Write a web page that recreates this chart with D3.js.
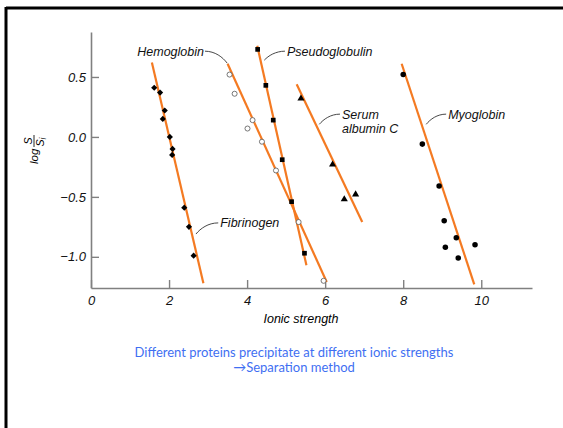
<!DOCTYPE html>
<html>
<head>
<meta charset="utf-8">
<script src="https://cdn.jsdelivr.net/npm/d3@7"></script>
<style>
  body { margin: 0; background: #fff; }
  svg text { font-family: "Liberation Sans", Arial, sans-serif; }
</style>
</head>
<body>
<div id="chart"></div>
<script>
// data: ionic strength (x) vs log S/Si (y)
var fibrinogen = [[1.62, 0.41], [1.77, 0.37], [1.89, 0.22], [1.84, 0.15], [2.02, 0.0], [2.09, -0.10], [2.08, -0.15], [2.39, -0.59], [2.51, -0.75], [2.63, -0.99]]
var hemoglobin = [[3.55, 0.52], [3.68, 0.36], [4.14, 0.14], [4.01, 0.07], [4.38, -0.04], [4.74, -0.28], [5.32, -0.71], [5.96, -1.20]]
var pseudoglobulin = [[4.27, 0.73], [4.48, 0.43], [4.67, 0.14], [4.90, -0.19], [5.14, -0.54], [5.47, -0.97]]
var serumAlbumin = [[5.38, 0.32], [6.19, -0.23], [6.49, -0.52], [6.78, -0.48]]
var myoglobin = [[8.00, 0.52], [8.49, -0.06], [8.92, -0.41], [9.05, -0.70], [9.36, -0.84], [9.08, -0.92], [9.84, -0.90], [9.41, -1.01]]

// fitted lines (end points)
var fibrinogenLine = [[1.56, 0.62], [2.88, -1.22]]
var hemoglobinLine = [[3.50, 0.61], [6.04, -1.21]]
var pseudoglobulinLine = [[4.26, 0.76], [5.52, -1.07]]
var serumAlbuminLine = [[5.27, 0.44], [6.95, -0.71]]
var myoglobinLine = [[7.96, 0.61], [9.82, -1.23]]

var xTicks = [0, 2, 4, 6, 8, 10]
var yTicks = [0.5, 0, -0.5, -1.0]

// label text, leader start and leader end, in data units
var labels = [
	{ text: ["Hemoglobin"], side: "end", from: [2.92, 0.715], to: [3.49, 0.615] },
	{ text: ["Pseudoglobulin"], side: "start", from: [4.97, 0.715], to: [4.44, 0.64] },
	{ text: ["Serum", "albumin C"], side: "start", from: [6.38, 0.19], to: [5.85, 0.105] },
	{ text: ["Myoglobin"], side: "start", from: [9.10, 0.19], to: [8.59, 0.105] },
	{ text: ["Fibrinogen"], side: "start", from: [3.26, -0.717], to: [2.69, -0.81] }
]

var caption = ["Different proteins precipitate at different ionic strengths", "\u2192Separation method"]

var width = 563
var height = 428
var orange = "#f47a22"

var svg = d3.select("#chart")
	.append("svg")
	.attr("width", width)
	.attr("height", height)

// slide frame (top and left edges only)
svg.append("line").attr("x1", 6).attr("x2", width).attr("y1", 8).attr("y2", 8)
	.attr("stroke", "#000").attr("stroke-width", 3)
svg.append("line").attr("x1", 6).attr("x2", 6).attr("y1", 7).attr("y2", height)
	.attr("stroke", "#000").attr("stroke-width", 3)

var x = d3.scaleLinear().domain([0, 11.3]).range([91, 532])
var y = d3.scaleLinear().domain([-1.26, 0.875]).range([288, 32])

// axes
var yAxis = svg.append("g")
	.attr("transform", "translate(" + x(0) + ",0)")
	.call(d3.axisLeft(y).tickValues(yTicks).tickFormat(d3.format(".1f"))
		.tickSizeInner(-8).tickSizeOuter(0).tickPadding(5))
var xAxis = svg.append("g")
	.attr("transform", "translate(0," + y(-1.26) + ")")
	.call(d3.axisBottom(x).tickValues(xTicks).tickFormat(d3.format("d"))
		.tickSizeInner(-8).tickSizeOuter(0).tickPadding(6))

svg.selectAll(".domain").attr("stroke", "#808080").attr("stroke-width", 1.6)
svg.selectAll(".tick line").attr("stroke", "#808080").attr("stroke-width", 1.4)
svg.selectAll(".tick text")
	.attr("fill", "#111")
	.style("font-size", "13px")
	.style("font-style", "italic")
	.style("font-family", "'Liberation Sans', Arial, sans-serif")
xAxis.selectAll(".tick text").attr("dy", "0.85em")

// axis titles
svg.append("text")
	.attr("x", 301)
	.attr("y", 323)
	.attr("text-anchor", "middle")
	.style("font-size", "12.5px")
	.style("font-style", "italic")
	.text("Ionic strength")

var yl = svg.append("g").attr("transform", "translate(38,164) rotate(-90)")
	.style("font-style", "italic")
yl.append("text").attr("x", 0).attr("y", 0).style("font-size", "11.5px").text("log")
yl.append("line").attr("x1", 17).attr("x2", 29).attr("y1", -4).attr("y2", -4)
	.attr("stroke", "#111").attr("stroke-width", 0.9)
yl.append("text").attr("x", 23).attr("y", -6).attr("text-anchor", "middle")
	.style("font-size", "10.5px").text("S")
var den = yl.append("text").attr("x", 22).attr("y", 6).attr("text-anchor", "middle")
	.style("font-size", "10.5px")
den.append("tspan").text("S")
den.append("tspan").attr("dy", 2).style("font-size", "8.5px").text("i")

// fitted lines
var line = d3.line().x(function (d) { return x(d[0]) }).y(function (d) { return y(d[1]) })
var allLines = [fibrinogenLine, hemoglobinLine, pseudoglobulinLine, serumAlbuminLine, myoglobinLine]
svg.append("g").selectAll("path")
	.data(allLines)
	.enter().append("path")
	.attr("d", line)
	.attr("fill", "none")
	.attr("stroke", orange)
	.attr("stroke-width", 2.2)

// markers
function drawPoints(data, type, fill, stroke, size, rot) {
	svg.append("g").selectAll("path")
		.data(data)
		.enter().append("path")
		.attr("transform", function (d) { return "translate(" + x(d[0]) + "," + y(d[1]) + ") rotate(" + (rot || 0) + ")" })
		.attr("d", d3.symbol().type(type).size(size))
		.attr("fill", fill)
		.attr("stroke", stroke)
		.attr("stroke-width", 0.8)
}
drawPoints(fibrinogen, d3.symbolSquare, "#000", "none", 19, 45)
drawPoints(hemoglobin, d3.symbolCircle, "#fff", "#555", 20)
drawPoints(pseudoglobulin, d3.symbolSquare, "#000", "none", 22)
drawPoints(serumAlbumin, d3.symbolTriangle, "#000", "none", 22)
drawPoints(myoglobin, d3.symbolCircle, "#000", "none", 24)

// labels with curved leaders
labels.forEach(function (l) {
	var fx = x(l.from[0]), fy = y(l.from[1])
	var tx = x(l.to[0]), ty = y(l.to[1])
	var p = d3.path()
	p.moveTo(fx, fy)
	p.bezierCurveTo(fx + (tx - fx) * 0.45, fy, tx + (fx - tx) * 0.2, ty + (fy - ty) * 0.5, tx, ty)
	svg.append("path").attr("d", p.toString())
		.attr("fill", "none").attr("stroke", "#333").attr("stroke-width", 0.9)
	var t = svg.append("text")
		.attr("text-anchor", l.side)
		.style("font-size", "12.5px")
		.style("font-style", "italic")
		.attr("fill", "#111")
	l.text.forEach(function (s, i) {
		t.append("tspan")
			.attr("x", fx + (l.side == "end" ? -1 : 2))
			.attr("y", fy + 4.5 + i * 14)
			.text(s)
	})
})

// caption
svg.append("g").selectAll("text")
	.data(caption)
	.enter().append("text")
	.attr("x", 294)
	.attr("y", function (d, i) { return 357 + i * 15 })
	.attr("text-anchor", "middle")
	.attr("fill", "#3f6ff2")
	.style("font-family", "Lato, 'Open Sans', sans-serif")
	.style("font-size", "13px")
	.text(function (d) { return d })
</script>
</body>
</html>
